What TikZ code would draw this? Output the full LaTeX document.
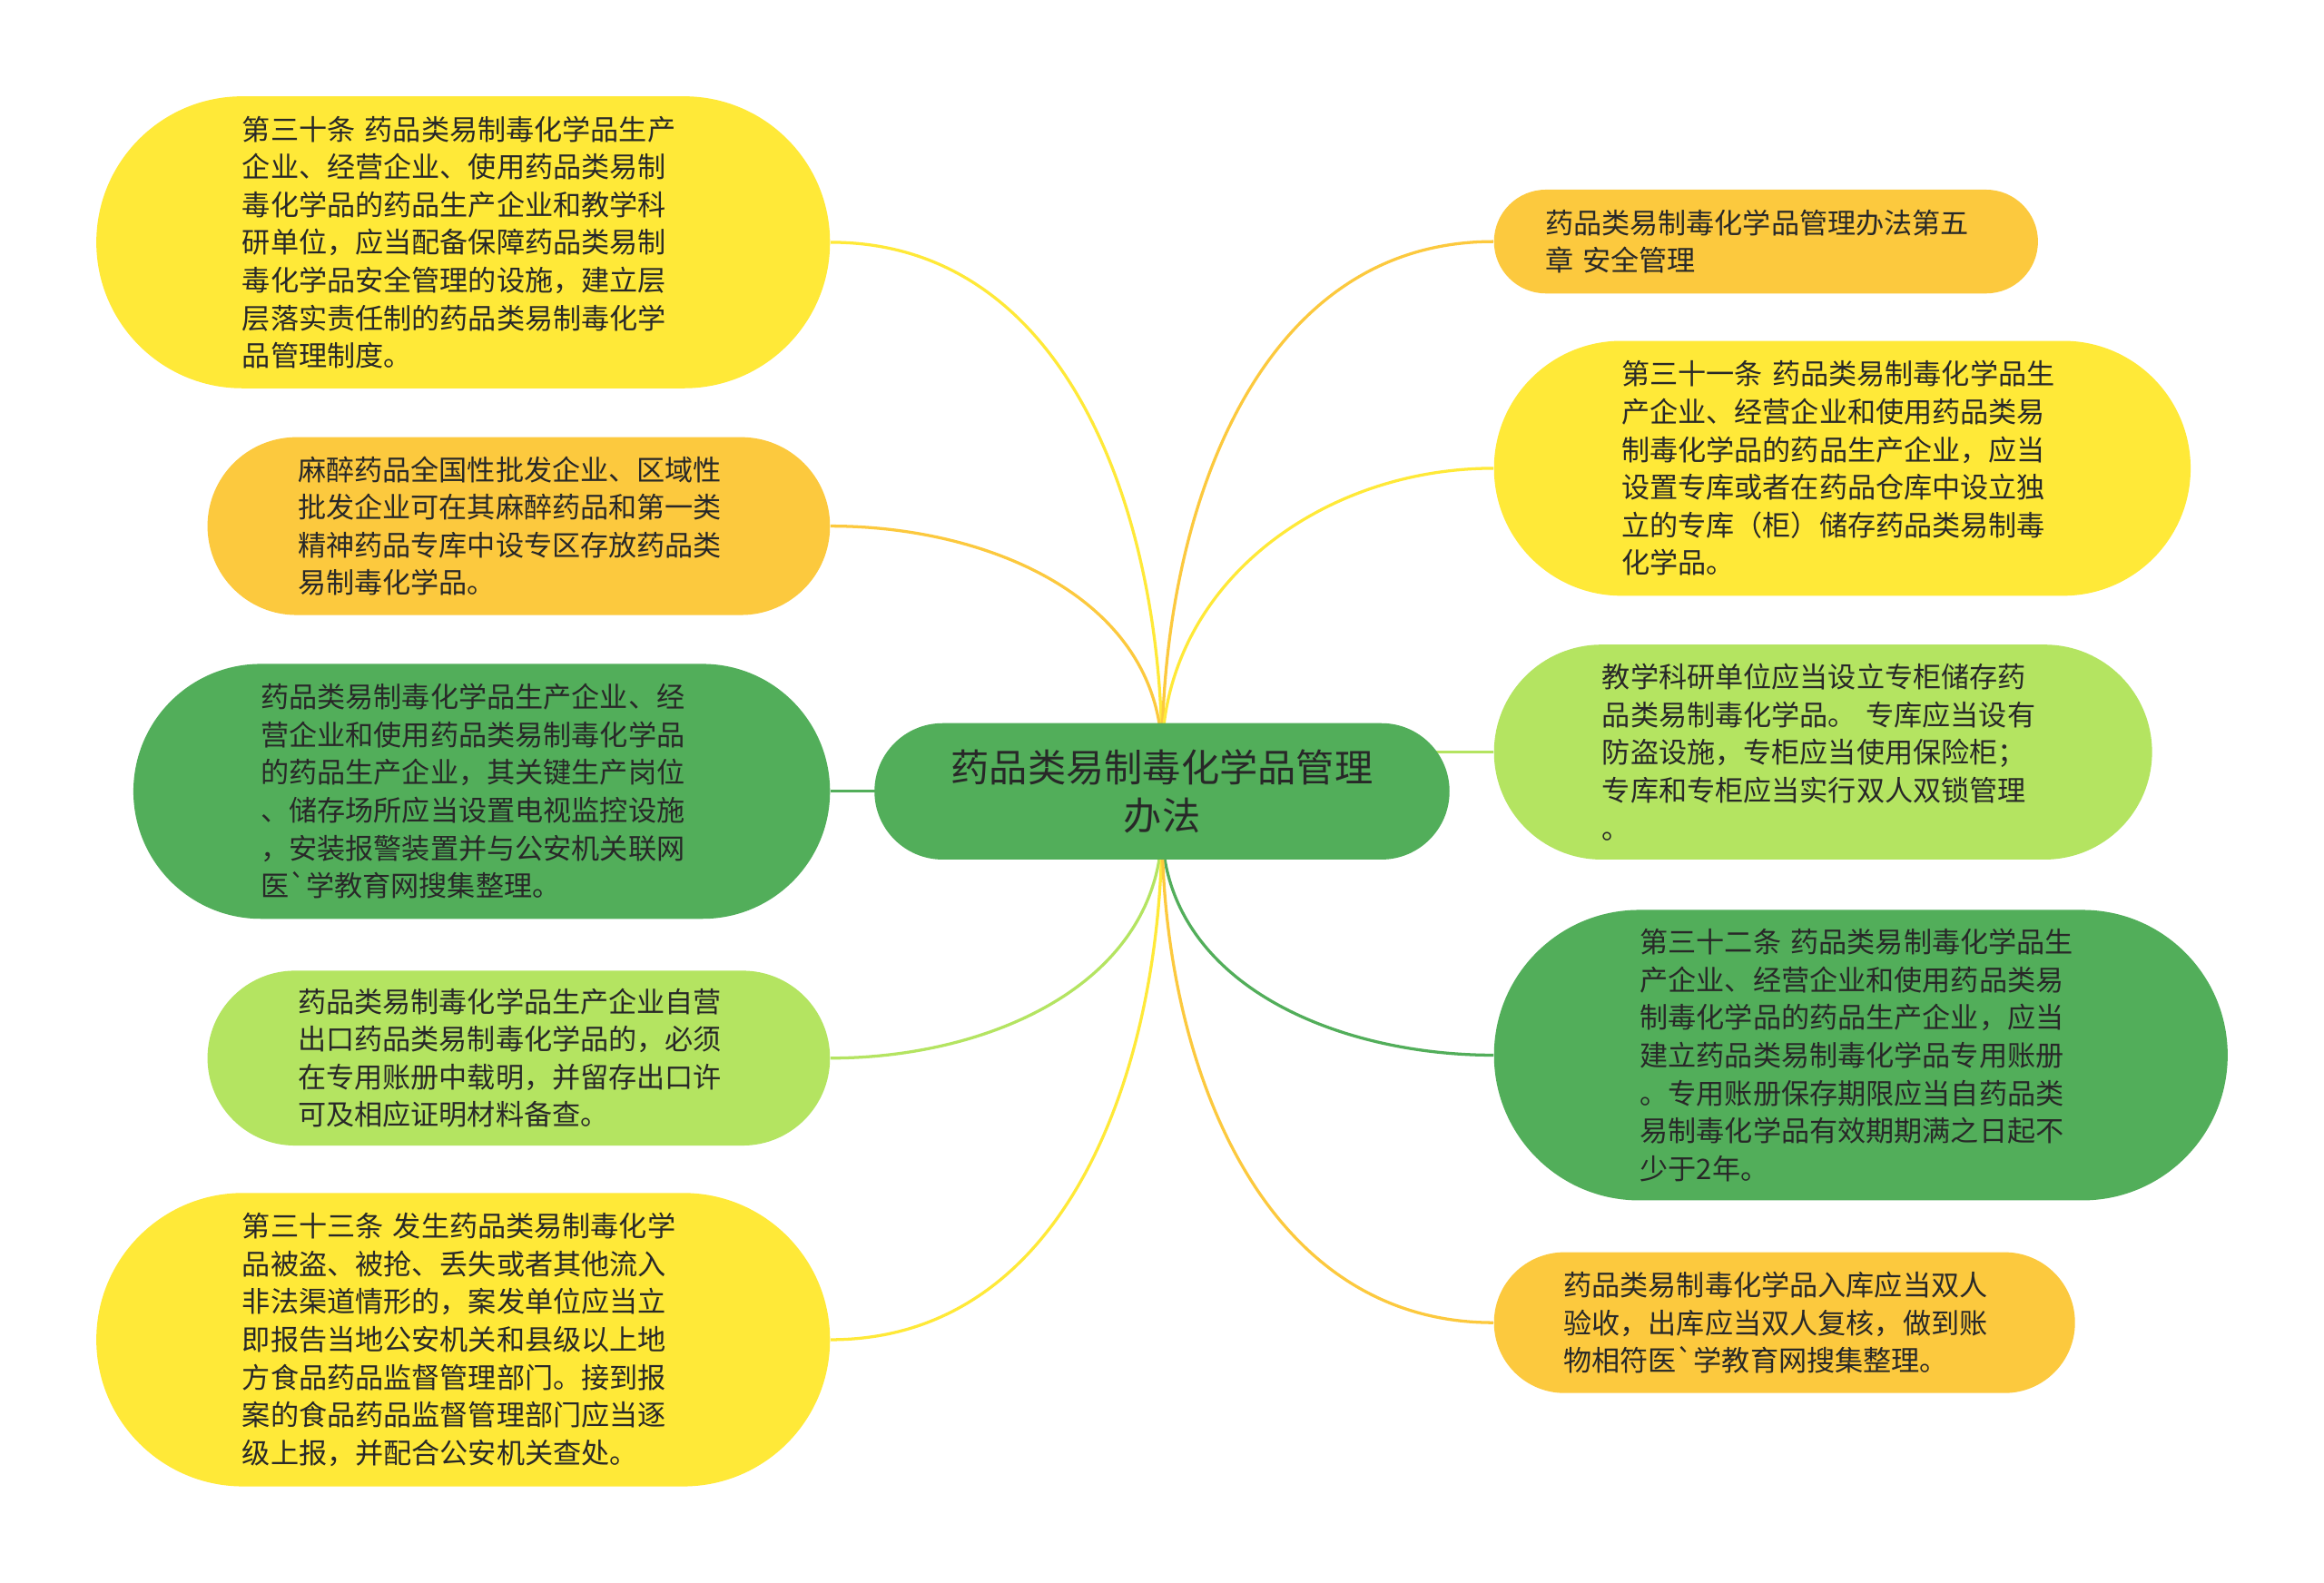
\documentclass[tikz,border=0pt]{standalone}
\usepackage{fontspec}
\setmainfont{Noto Sans CJK SC}[Ligatures=TeXOff]
\usetikzlibrary{backgrounds,calc}

\definecolor{ylwfill}{RGB}{255,233,56}
\definecolor{orgfill}{RGB}{252,201,62}
\definecolor{grnfill}{RGB}{82,174,90}
\definecolor{lgrfill}{RGB}{180,228,97}
\definecolor{txtdark}{RGB}{40,40,40}

\tikzset{every picture/.style={line width=0.75pt},
	pill/.style 2 args={rectangle, minimum width=#1, minimum height=#2, rounded corners=#2/2, inner sep=0pt},
	leaf/.style={text width=223.5pt, align=left, text=txtdark, font=\fontsize{14.3}{19.1}\selectfont},
	branch/.style={line width=1.5pt},
}

\begin{document}
\begin{tikzpicture}[x=0.75pt,y=0.75pt,yscale=-1,xscale=1]
	\useasboundingbox (0,0) rectangle (1568,1067.6);

	% Root
	\draw (784,534) node (root) [pill={291pt}{69pt}, fill=grnfill, text=txtdark, align=center, font=\fontsize{19.4}{24.75}\selectfont] {药品类易制毒化学品管理\\办法};
	\coordinate (hubup) at ($(root.center)!0.5!(root.north)$);
	\coordinate (hubdown) at ($(root.center)!0.5!(root.south)$);

	% Left side
	\draw (312.5,163.5) node (l1) [pill={371.25pt}{147.75pt}, fill=ylwfill, leaf] {第三十条 药品类易制毒化学品生产\\企业、经营企业、使用药品类易制\\毒化学品的药品生产企业和教学科\\研单位，应当配备保障药品类易制\\毒化学品安全管理的设施，建立层\\层落实责任制的药品类易制毒化学\\品管理制度。};
	\draw (350,355) node (l2) [pill={315pt}{90pt}, fill=orgfill, leaf] {麻醉药品全国性批发企业、区域性\\批发企业可在其麻醉药品和第一类\\精神药品专库中设专区存放药品类\\易制毒化学品。};
	\draw (325,534) node (l3) [pill={352.5pt}{129pt}, fill=grnfill, leaf] {药品类易制毒化学品生产企业、经\\营企业和使用药品类易制毒化学品\\的药品生产企业，其关键生产岗位\\、储存场所应当设置电视监控设施\\，安装报警装置并与公安机关联网\\医`学教育网搜集整理。};
	\draw (350,714) node (l4) [pill={315pt}{88.5pt}, fill=lgrfill, leaf] {药品类易制毒化学品生产企业自营\\出口药品类易制毒化学品的，必须\\在专用账册中载明，并留存出口许\\可及相应证明材料备查。};
	\draw (312.5,904) node (l5) [pill={371.25pt}{148.5pt}, fill=ylwfill, leaf] {第三十三条 发生药品类易制毒化学\\品被盗、被抢、丢失或者其他流入\\非法渠道情形的，案发单位应当立\\即报告当地公安机关和县级以上地\\方食品药品监督管理部门。接到报\\案的食品药品监督管理部门应当逐\\级上报，并配合公安机关查处。};

	% Right side
	\draw (1191.5,163) node (r1) [pill={275.25pt}{52.5pt}, fill=orgfill, leaf] {药品类易制毒化学品管理办法第五\\章 安全管理};
	\draw (1243,316) node (r2) [pill={352.5pt}{129pt}, fill=ylwfill, leaf] {第三十一条 药品类易制毒化学品生\\产企业、经营企业和使用药品类易\\制毒化学品的药品生产企业，应当\\设置专库或者在药品仓库中设立独\\立的专库（柜）储存药品类易制毒\\化学品。};
	\draw (1230,507.5) node (r3) [pill={333pt}{108.75pt}, fill=lgrfill, leaf] {教学科研单位应当设立专柜储存药\\品类易制毒化学品。 专库应当设有\\防盗设施，专柜应当使用保险柜；\\专库和专柜应当实行双人双锁管理\\。};
	\draw (1255.5,712) node (r4) [pill={371.25pt}{147pt}, fill=grnfill, leaf] {第三十二条 药品类易制毒化学品生\\产企业、经营企业和使用药品类易\\制毒化学品的药品生产企业，应当\\建立药品类易制毒化学品专用账册\\。专用账册保存期限应当自药品类\\易制毒化学品有效期期满之日起不\\少于2年。};
	\draw (1204,892.5) node (r5) [pill={294pt}{71.25pt}, fill=orgfill, leaf] {药品类易制毒化学品入库应当双人\\验收，出库应当双人复核，做到账\\物相符医`学教育网搜集整理。};

	\begin{pgfonlayer}{background}
	\fill [white] (0,0) rectangle (1568,1067.6);
	% Branches up (yscale=-1, so -90 points up)
	\draw [branch, draw=ylwfill] (hubup) to[out=-90,in=0] (l1.east);
	\draw [branch, draw=orgfill] (hubup) to[out=-90,in=0] (l2.east);
	\draw [branch, draw=orgfill] (hubup) to[out=-90,in=180] (r1.west);
	\draw [branch, draw=ylwfill] (hubup) to[out=-90,in=180] (r2.west);
	% Branches level
	\draw [branch, draw=grnfill] (root.center) -- (l3.east);
	\draw [branch, draw=lgrfill] (r3.west -| root.center) -- (r3.west);
	% Branches down
	\draw [branch, draw=lgrfill] (hubdown) to[out=90,in=0] (l4.east);
	\draw [branch, draw=ylwfill] (hubdown) to[out=90,in=0] (l5.east);
	\draw [branch, draw=grnfill] (hubdown) to[out=90,in=180] (r4.west);
	\draw [branch, draw=orgfill] (hubdown) to[out=90,in=180] (r5.west);
	\end{pgfonlayer}

\end{tikzpicture}
\end{document}
